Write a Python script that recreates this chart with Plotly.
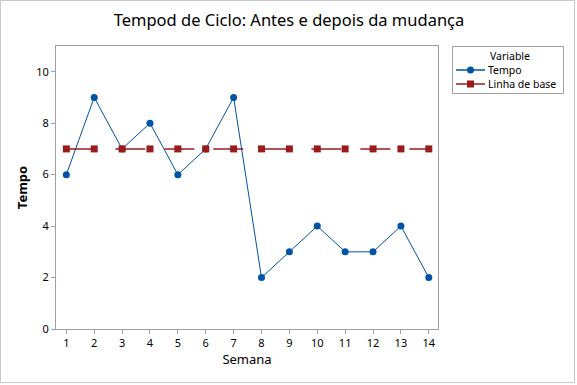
import plotly.graph_objects as go

semana = list(range(1, 15))
tempo = [6, 9, 7, 8, 6, 7, 9, 2, 3, 4, 3, 3, 4, 2]
linha_base = [7] * 14
series_names = ["Tempo", "Linha de base"]

W, H = 577, 385
L, R, T, B = 56, 438, 46, 329
pw, ph = R - L, B - T

blue = "#0054A6"
red = "#9A1B1B"
font = "Noto Sans"


def px(x):
    return (x - L) / pw


def py(y):
    return (B - y) / ph


fig = go.Figure()
fig.add_trace(go.Scatter(x=semana, y=tempo, name=series_names[0], mode="lines+markers",
                         line=dict(color=blue, width=1),
                         marker=dict(symbol="circle", size=7, color=blue)))
fig.add_trace(go.Scatter(x=semana, y=linha_base, name=series_names[1], mode="lines+markers",
                         line=dict(color=red, width=1.5, dash="30px,19px"),
                         marker=dict(symbol="square", size=7, color=red)))

axis_common = dict(showline=True, linecolor="#A0A0A0", linewidth=1, mirror=True,
                   ticks="outside", ticklen=4, tickcolor="#A0A0A0",
                   showgrid=False, zeroline=False,
                   tickfont=dict(family=font, size=11, color="black"))

fig.update_layout(
    width=W, height=H,
    margin=dict(l=L, r=W - R, t=T, b=H - B, autoexpand=False),
    paper_bgcolor="white", plot_bgcolor="white",
    showlegend=False,
    title=dict(text="Tempod de Ciclo: Antes e depois da mudança", x=289 / W, xanchor="center",
               y=1 - 20 / H, yanchor="middle",
               font=dict(family=font, size=16.5, color="black")),
    xaxis=dict(range=[0.63, 14.33], tickvals=semana,
               title=dict(text="Semana", font=dict(family=font, size=13, color="black"), standoff=5),
               **axis_common),
    yaxis=dict(range=[0, 11], tickvals=[0, 2, 4, 6, 8, 10],
               title=dict(text="<b>Tempo</b>", font=dict(family=font, size=13, color="black"), standoff=5),
               **axis_common),
)

# outer figure border
fig.add_shape(type="rect", xref="paper", yref="paper",
              x0=px(0.5), x1=px(574.5), y0=py(382.5), y1=py(0.5),
              line=dict(color="#C8C8C8", width=1), layer="below")

# legend box (drawn manually for compact Minitab-style layout)
fig.add_shape(type="rect", xref="paper", yref="paper",
              x0=px(452.5), x1=px(563.5), y0=py(93.5), y1=py(46.5),
              line=dict(color="#A0A0A0", width=1), fillcolor="white")
fig.add_annotation(xref="paper", yref="paper", x=px(509.5), y=py(56), text="Variable",
                   showarrow=False, xanchor="center", yanchor="middle", borderpad=0,
                   font=dict(family=font, size=10.5, color="black"))
legend_rows = [(70, blue, "circle", series_names[0]), (84, red, "square", series_names[1])]
for yy, col, sym, name in legend_rows:
    fig.add_shape(type="line", xref="paper", yref="paper",
                  x0=px(456), x1=px(485), y0=py(yy), y1=py(yy),
                  line=dict(color=col, width=1.5))
    fig.add_shape(type="circle" if sym == "circle" else "rect", xref="paper", yref="paper",
                  x0=px(467), x1=px(474), y0=py(yy + 3.5), y1=py(yy - 3.5),
                  line=dict(color=col, width=0), fillcolor=col)
    fig.add_annotation(xref="paper", yref="paper", x=px(487), y=py(yy), text=name,
                       showarrow=False, xanchor="left", yanchor="middle", borderpad=0,
                       font=dict(family=font, size=10.5, color="black"))

fig.write_html("out.html", config={"displayModeBar": False},
               post_script="document.body.style.margin='0';document.body.style.padding='0';")
